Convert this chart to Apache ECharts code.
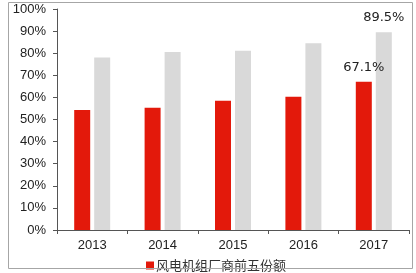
<!DOCTYPE html>
<html><head><meta charset="utf-8">
<script src="https://cdn.jsdelivr.net/npm/echarts@6/dist/echarts.min.js"></script>
<style>html,body{margin:0;padding:0;background:#fff}#c{width:416px;height:273px}</style>
</head><body><div id="c"></div>
<script>
var categories = ['2013', '2014', '2015', '2016', '2017'];
var top5Share = [54.3, 55.3, 58.5, 60.3, 67.1];
var otherShare = [78.0, 80.5, 81.1, 84.5, 89.5];
var yTickLabels = ['0%', '10%', '20%', '30%', '40%', '50%', '60%', '70%', '80%', '90%', '100%'];
var seriesName = '风电机组厂商前五份额';
var labeledIndex = 4;

var chart = echarts.init(document.getElementById('c'), null, {renderer: 'canvas'});
function mk(arr) {
  return arr.map(function (v, i) {
    return i === labeledIndex ? {value: v, label: {show: true}} : v;
  });
}
chart.setOption({
  animation: false,
  graphic: [{type: 'rect', shape: {x: 8.5, y: 2.5, width: 404, height: 266}, style: {fill: 'none', stroke: '#a6a6a6', lineWidth: 1}, z: 100}],
  grid: {left: 57, right: 7, top: 9, bottom: 43},
  legend: {
    data: [seriesName], left: 141, top: 254, itemWidth: 8, itemHeight: 8, itemGap: 4,
    icon: 'rect',
    textStyle: {fontFamily: 'Noto Sans CJK SC', fontSize: 13, color: '#333', padding: [0, 0, 0, -3]}
  },
  xAxis: {
    type: 'category', data: categories,
    axisLine: {lineStyle: {color: '#555', width: 1}},
    axisTick: {show: true, length: 4, lineStyle: {color: '#555'}},
    axisLabel: {fontFamily: 'Liberation Sans', fontSize: 13, color: '#222', margin: 9}
  },
  yAxis: {
    type: 'value', min: 0, max: 100, interval: 10,
    axisLine: {show: true, lineStyle: {color: '#555', width: 1}},
    axisTick: {show: true, length: 4, lineStyle: {color: '#555'}},
    splitLine: {show: false},
    axisLabel: {
      fontFamily: 'Liberation Sans', fontSize: 13, color: '#222', margin: 11,
      formatter: function (v) { return yTickLabels[Math.round(v / 10)]; }
    }
  },
  series: [
    {
      name: seriesName, type: 'bar', data: mk(top5Share), barWidth: 16, barGap: '25%',
      itemStyle: {color: '#e3190b'},
      label: {show: false, position: 'top', distance: 8, formatter: '{c}%', fontFamily: 'DejaVu Sans', fontSize: 13, color: '#222'}
    },
    {
      name: 'other', type: 'bar', data: mk(otherShare), barWidth: 16,
      itemStyle: {color: '#d9d9d9'},
      label: {show: false, position: 'top', distance: 8, formatter: '{c}%', fontFamily: 'DejaVu Sans', fontSize: 13, color: '#222'}
    }
  ]
});
</script></body></html>
